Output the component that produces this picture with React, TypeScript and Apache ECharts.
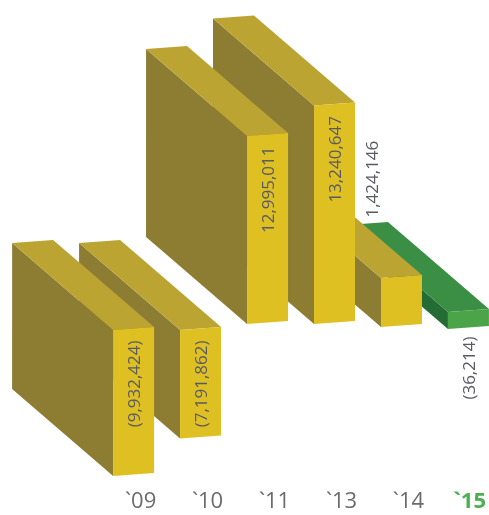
import React, { useEffect, useRef } from "react";
import * as echarts from "echarts";

// Categories and the values printed on the bars
const categories = ["`09", "`10", "`11", "`13", "`14", "`15"];
const values = [-9932424, -7191862, 12995011, 13240647, 1424146, -36214];
// Drawn bar extents (chart units: the bars are not to scale)
const barLow = [-9.97, -7.47, 0.17, 0.17, -0.03, -0.17];
const barHigh = [-0.23, -0.23, 12.7, 14.73, 3.23, 0.97];
const labelPlacement = ["inside", "inside", "inside", "inside", "above", "below"];
const highlightIndex = 5;

const fmt = (v: number) => {
  const s = Math.abs(v).toLocaleString("en-US");
  return v < 0 ? `(${s})` : s;
};

export default function App() {
  const ref = useRef<HTMLDivElement>(null);
  useEffect(() => {
    if (!ref.current) return;
    const chart = echarts.init(ref.current, null, { renderer: "svg" });
    const DX = -101;
    const DY = -87;
    const HALF = 20.5;
    const TILT = 1.5;
    const yellow = { front: "#DFC023", top: "#BCA433", side: "#8D7D33" };
    const green = { front: "#4BA548", top: "#3A8F45", side: "#236C34" };
    const data = categories.map((c, i) => [i, barLow[i], barHigh[i]]);
    chart.setOption({
      animation: false,
      grid: { left: 133.6, right: 19.7, top: 10, bottom: 25 },
      xAxis: {
        type: "category",
        data: categories,
        boundaryGap: false,
        axisLine: { show: false },
        axisTick: { show: false },
        splitLine: { show: false },
        axisLabel: {
          margin: 9,
          verticalAlign: "middle",
          formatter: (v: string, idx: number) =>
            idx === highlightIndex ? `{g|${v}}` : `{a|${v}}`,
          rich: {
            a: {
              fontSize: 22,
              lineHeight: 20,
              color: "#6b6b6b",
              fontFamily: "Open Sans",
              padding: [0, 0, 0, 14],
            },
            g: {
              fontSize: 22,
              lineHeight: 20,
              color: "#4CAF50",
              fontWeight: "bold",
              fontFamily: "Open Sans",
              padding: [0, 0, 0, 2],
            },
          },
        },
      },
      yAxis: {
        type: "value",
        min: -11,
        max: 21,
        show: false,
        splitLine: { show: false },
      },
      series: [
        {
          type: "custom",
          data,
          encode: { x: 0, y: [1, 2] },
          clip: false,
          renderItem: (params: any, api: any) => {
            const i = api.value(0);
            const lo = api.value(1);
            const hi = api.value(2);
            const pT = api.coord([i, hi]);
            const pB = api.coord([i, lo]);
            const cx = pT[0];
            const yT = pT[1];
            const yB = pB[1];
            const xl = cx - HALF;
            const xr = cx + HALF;
            const col = i === highlightIndex ? green : yellow;
            const zb = (10 - i) * 10;
            const tl = [xl, yT + TILT];
            const tr = [xr, yT - TILT];
            const bl = [xl, yB + TILT];
            const br = [xr, yB - TILT];
            const children: any[] = [
              {
                type: "polygon",
                z2: zb,
                shape: {
                  points: [tl, bl, [bl[0] + DX, bl[1] + DY], [tl[0] + DX, tl[1] + DY]],
                },
                style: { fill: col.side },
              },
              {
                type: "polygon",
                z2: zb + 1,
                shape: {
                  points: [tl, tr, [tr[0] + DX, tr[1] + DY], [tl[0] + DX, tl[1] + DY]],
                },
                style: { fill: col.top },
              },
              {
                type: "polygon",
                z2: zb + 2,
                shape: { points: [tl, tr, br, bl] },
                style: { fill: col.front },
              },
            ];
            const place = labelPlacement[i];
            let lx = cx;
            let ly = yT + 12;
            let align = "right";
            if (place === "above") {
              lx = cx - 30;
              ly = yT - 59;
              align = "left";
            } else if (place === "below") {
              lx = cx;
              ly = yB + 9;
              align = "right";
            }
            children.push({
              type: "text",
              z2: zb + 5,
              x: lx,
              y: ly,
              rotation: Math.PI / 2,
              style: {
                text: fmt(values[i]),
                fill: "#595b63",
                fontSize: 17,
                fontFamily: "Open Sans",
                align,
                verticalAlign: "middle",
              },
            });
            return { type: "group", children };
          },
        },
      ],
    });
    return () => chart.dispose();
  }, []);
  return (
    <div
      ref={ref}
      style={{ position: "fixed", left: 0, top: 0, width: 489, height: 515 }}
    />
  );
}
